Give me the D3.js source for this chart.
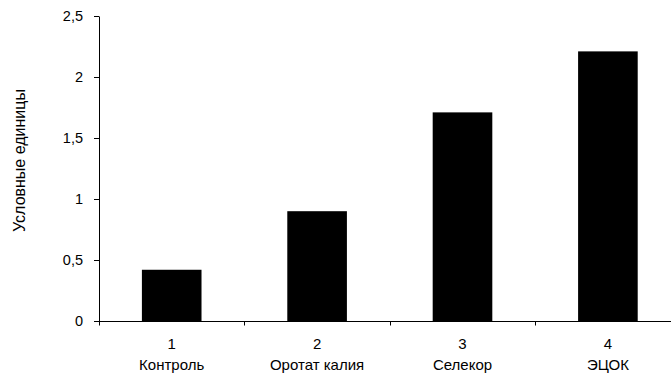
<!DOCTYPE html>
<html>
<head>
<meta charset="utf-8">
<script src="https://cdn.jsdelivr.net/npm/d3@7"></script>
<style>
  body { margin: 0; background: #fff; }
  svg { display: block; font-family: "Liberation Sans", Arial, sans-serif; }
</style>
</head>
<body>
<svg width="671" height="379"></svg>
<script>
// data
var numbers = ['1', '2', '3', '4'];
var categories = ['Контроль', 'Оротат калия', 'Селекор', 'ЭЦОК'];
var values = [0.42, 0.9, 1.71, 2.21];
var yTicks = [0, 0.5, 1, 1.5, 2, 2.5];

var svg = d3.select('svg');

var padding = {t: 16, l: 99, b: 58};
var plotRight = 680.6;   // axis runs past the right edge of the picture
var baseY = 379 - padding.b;

var xScale = d3.scaleBand()
    .domain(numbers)
    .range([padding.l, plotRight])
    .paddingInner(0.59)
    .paddingOuter(0.295);

var yScale = d3.scaleLinear()
    .domain([0, 2.5])
    .range([baseY, padding.t]);

// bars
svg.selectAll('.bar')
    .data(values)
    .enter()
    .append('rect')
    .attr('class', 'bar')
    .attr('x', function(d, i) { return xScale(numbers[i]); })
    .attr('y', function(d) { return yScale(d); })
    .attr('width', xScale.bandwidth())
    .attr('height', function(d) { return baseY - yScale(d); })
    .attr('fill', '#000');

// y axis
var yAxisG = svg.append('g')
    .attr('transform', 'translate(' + [padding.l, 0] + ')')
    .call(d3.axisLeft(yScale)
        .tickValues(yTicks)
        .tickSize(5)
        .tickSizeOuter(0)
        .tickPadding(11)
        .tickFormat(function(d) { return String(d).replace('.', ','); }));
yAxisG.selectAll('text').style('font-size', '14.5px').attr('fill', '#000');
yAxisG.selectAll('line, path').attr('stroke', '#000');

// x axis line with ticks between categories
var step = xScale.step();
var x0 = xScale.range()[0];
var boundaries = d3.range(numbers.length + 1).map(function(i) { return x0 + i * step; });

svg.append('line')
    .attr('x1', x0).attr('x2', plotRight)
    .attr('y1', baseY + 0.5).attr('y2', baseY + 0.5)
    .attr('stroke', '#000');

svg.selectAll('.xtick')
    .data(boundaries)
    .enter()
    .append('line')
    .attr('class', 'xtick')
    .attr('x1', function(d) { return Math.round(d) + 0.5; })
    .attr('x2', function(d) { return Math.round(d) + 0.5; })
    .attr('y1', baseY)
    .attr('y2', baseY + 4.5)
    .attr('stroke', '#000');

// category labels
var labelsG = svg.append('g').style('font-size', '15px');
labelsG.selectAll('.num')
    .data(numbers)
    .enter()
    .append('text')
    .attr('class', 'num')
    .attr('x', function(d) { return xScale(d) + xScale.bandwidth() / 2; })
    .attr('y', baseY + 28)
    .attr('text-anchor', 'middle')
    .text(function(d) { return d; });

labelsG.selectAll('.cat')
    .data(categories)
    .enter()
    .append('text')
    .attr('class', 'cat')
    .attr('x', function(d, i) { return xScale(numbers[i]) + xScale.bandwidth() / 2; })
    .attr('y', baseY + 49)
    .attr('text-anchor', 'middle')
    .text(function(d) { return d; });

// y title
svg.append('text')
    .attr('transform', 'translate(' + [24.5, 160.5] + ') rotate(-90)')
    .attr('text-anchor', 'middle')
    .style('font-size', '16px')
    .text('Условные единицы');
</script>
</body>
</html>
